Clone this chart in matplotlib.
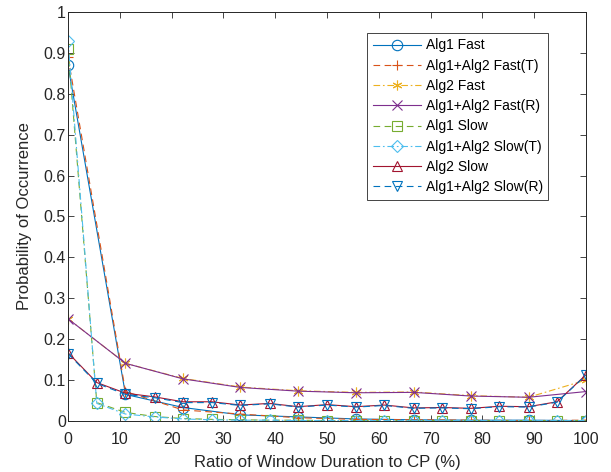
import numpy as np
import matplotlib
matplotlib.use('Agg')
import matplotlib.pyplot as plt

plt.rcParams['font.family'] = ['Liberation Sans', 'DejaVu Sans']

# window ratio (%) -- fast runs sampled every 1/9, slow runs every 1/18
x_fast = [0, 11.1, 22.2, 33.3, 44.4, 55.6, 66.7, 77.8, 88.9, 100]
x_slow = [0, 5.56, 11.1, 16.7, 22.2, 27.8, 33.3, 38.9, 44.4, 50,
          55.6, 61.1, 66.7, 72.2, 77.8, 83.3, 88.9, 94.4, 100]

alg1_fast = [0.87, 0.065, 0.033, 0.015, 0.010, 0.005, 0.003, 0.002, 0.002, 0.001]
alg12_fast_t = [0.89, 0.072, 0.027, 0.017, 0.008, 0.004, 0.003, 0.002, 0.001, 0.002]
alg2_fast = [0.25, 0.141, 0.104, 0.083, 0.074, 0.070, 0.071, 0.062, 0.058, 0.100]
alg12_fast_r = [0.25, 0.141, 0.103, 0.082, 0.073, 0.069, 0.070, 0.061, 0.058, 0.072]

alg1_slow = [0.91, 0.045, 0.021, 0.011, 0.006, 0.004, 0.003, 0.002, 0.002, 0.001,
             0.001, 0.001, 0.001, 0.001, 0.001, 0.001, 0.001, 0.001, 0.001]
alg12_slow_t = [0.93, 0.043, 0.017, 0.010, 0.005, 0.003, 0.002, 0.002, 0.001, 0.001,
                0.001, 0.001, 0.001, 0.001, 0.001, 0.001, 0.001, 0.001, 0.001]
alg2_slow = [0.167, 0.094, 0.068, 0.059, 0.047, 0.047, 0.039, 0.043, 0.035, 0.040,
             0.035, 0.039, 0.032, 0.033, 0.031, 0.036, 0.035, 0.047, 0.113]
alg12_slow_r = [0.165, 0.092, 0.065, 0.057, 0.045, 0.045, 0.038, 0.042, 0.034, 0.039,
                0.034, 0.038, 0.031, 0.032, 0.030, 0.035, 0.034, 0.046, 0.112]

labels = ['Alg1 Fast', 'Alg1+Alg2 Fast(T)', 'Alg2 Fast', 'Alg1+Alg2 Fast(R)',
          'Alg1 Slow', 'Alg1+Alg2 Slow(T)', 'Alg2 Slow', 'Alg1+Alg2 Slow(R)']

asterisk = (6, 2, 0)
series = [
    (x_fast, alg1_fast, '#0072BD', '-', 'o'),
    (x_fast, alg12_fast_t, '#D95319', (0, (6, 4)), '+'),
    (x_fast, alg2_fast, '#EDB120', (0, (6, 2.5, 1.5, 2.5)), asterisk),
    (x_fast, alg12_fast_r, '#7E2F8E', '-', 'x'),
    (x_slow, alg1_slow, '#77AC30', (0, (6, 4)), 's'),
    (x_slow, alg12_slow_t, '#4DBEEE', (0, (6, 2.5, 1.5, 2.5)), 'D'),
    (x_slow, alg2_slow, '#A2142F', '-', '^'),
    (x_slow, alg12_slow_r, '#0072BD', (0, (6, 4)), 'v'),
]

fig = plt.figure(figsize=(6.11, 4.72), dpi=100)
ax = fig.add_axes([68 / 611, 1 - 421 / 472, 518 / 611, 409 / 472])

for (xs, ys, c, ls, m), lab in zip(series, labels):
    ms = 7.5
    if m == 'D':
        ms = 6
    elif m in ('+', 'x', asterisk):
        ms = 7
    ax.plot(xs, ys, color=c, linestyle=ls, marker=m, markersize=ms,
            markerfacecolor='none', markeredgecolor=c, markeredgewidth=0.8,
            linewidth=0.8, label=lab)

ax.set_xlim(0, 100)
ax.set_ylim(0, 1)
ax.set_xticks(np.arange(0, 101, 10))
yt = np.round(np.arange(0, 1.01, 0.1), 1)
ax.set_yticks(yt)
ax.set_yticklabels(['0'] + ['%.1f' % v for v in yt[1:-1]] + ['1'])
ax.tick_params(direction='in', top=True, right=True, length=4, width=0.6,
               labelsize=11.5, colors='#262626', labelcolor='#262626')
ax.tick_params(axis='x', pad=8)
ax.tick_params(axis='y', pad=1.5)
for s in ax.spines.values():
    s.set_linewidth(0.7)
    s.set_color('#262626')

ax.set_xlabel('Ratio of Window Duration to CP (%)', fontsize=12, color='#262626')
ax.set_ylabel('Probability of Occurrence', fontsize=12, color='#262626')
ax.xaxis.set_label_coords(0.5, -0.083)
ax.yaxis.set_label_coords(-0.0695, 0.5)

leg = ax.legend(loc='upper right', bbox_to_anchor=(0.927, 0.949), fontsize=10,
                handlelength=3.5, handletextpad=0.3, labelspacing=0.45,
                borderpad=0.4, fancybox=False, framealpha=1, borderaxespad=0)
leg.get_frame().set_edgecolor('#262626')
leg.get_frame().set_linewidth(0.6)

fig.savefig('out.png', dpi=100)
